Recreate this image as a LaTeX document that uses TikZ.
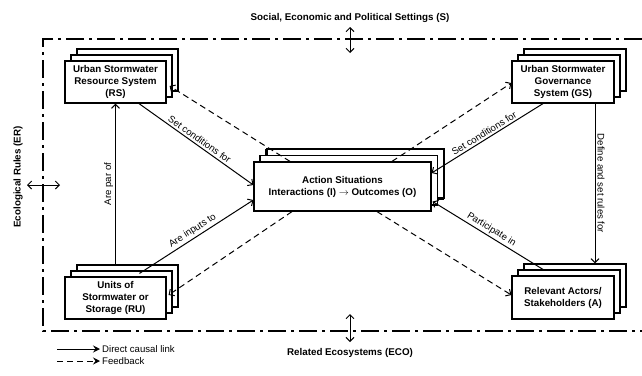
\documentclass[tikz,border=0pt]{standalone}
\usepackage{fontspec}
\setmainfont{Liberation Sans}
\usetikzlibrary{arrows.meta,shadows,calc}
\begin{document}
\begin{tikzpicture}[x=1pt,y=-1pt,
  stackbox/.style={draw=black,fill=white,line width=1.2pt,align=center,
    font=\bfseries\fontsize{9.8}{12}\selectfont,inner sep=0pt,
    double copy shadow={shadow xshift=6pt,shadow yshift=6pt,fill=white,draw=black,line width=1.2pt}},
  conn/.style={line width=1pt,-{Straight Barb[length=4pt,width=8pt,line width=1pt]}},
  fb/.style={conn,dash pattern=on 6pt off 4pt},
  dbl/.style={line width=1pt,{Straight Barb[length=4pt,width=8pt,line width=1pt]}-{Straight Barb[length=4pt,width=8pt,line width=1pt]}},
  lbl/.style={font=\fontsize{9.6}{11}\selectfont,inner sep=2pt},
  setlbl/.style={font=\bfseries\fontsize{9.8}{11}\selectfont,inner sep=0pt},
  frame/.style={line width=1.8pt,dash pattern=on 18pt off 5pt on 3pt off 5pt},
  legarrow/.style={line width=1pt,-{Stealth[length=7pt,width=7pt,inset=2.5pt]}}
]
\useasboundingbox (0,0) rectangle (642,375);
% frame
\draw[frame] (642,39) -- (43,39) -- (43,331) -- (642,331);
% settings labels
\node[setlbl] (S) at (350,18) {Social, Economic and Political Settings (S)};
\node[setlbl,rotate=90] (ER) at (18,177) {Ecological Rules (ER)};
\node[setlbl] (ECO) at (350,353) {Related Ecosystems (ECO)};
\coordinate (s1) at (350,27); \coordinate (s2) at (350,53);
\draw[dbl] (s1) -- (s2);
\coordinate (e1) at (27,185); \coordinate (e2) at (60,185);
\draw[dbl] (e1) -- (e2);
\coordinate (c1) at (350,314); \coordinate (c2) at (350,342);
\draw[dbl] (c1) -- (c2);
% boxes
\node[stackbox,minimum width=101pt,minimum height=42pt] (RS) at (115.5,82) {Urban Stormwater\\Resource System\\(RS)};
\node[stackbox,minimum width=102pt,minimum height=42pt] (GS) at (563,82) {Urban Stormwater\\Governance\\System (GS)};
\node[stackbox,minimum width=177pt,minimum height=49pt,
  double copy shadow={shadow xshift=6.5pt,shadow yshift=6.5pt,fill=white,draw=black,line width=1.2pt}] (AS) at (342.5,186.5) {Action Situations\\Interactions (I) $\rightarrow$ Outcomes (O)};
\node[stackbox,minimum width=101pt,minimum height=42pt] (RU) at (115.5,298) {Units of\\Stormwater or\\Storage (RU)};
\node[stackbox,minimum width=102pt,minimum height=43pt] (A) at (563,297.5) {Relevant Actors/\\Stakeholders (A)};
% connectors
\draw[conn] ($(RS.south)+(23.5,0)$) -- node[lbl,sloped,above] {Set conditions for} ($(AS.west)+(0,-1.5)$);
\draw[fb] ($(AS.north)+(-52.5,0)$) -- ($(RS.east)+(3,4)$);
\draw[conn] ($(GS.south)+(-20,0)$) -- node[lbl,sloped,above] {Set conditions for} ($(AS.east)+(0,-13.5)$);
\draw[fb] ($(AS.north)+(49.5,0)$) -- ($(GS.west)+(0,1)$);
\draw[conn] ($(GS.south)+(32,0)$) -- node[lbl,sloped,above] {Define and set rules for} ($(A.north)+(32,-12)$);
\draw[conn] ($(A.north)+(-20,-6)$) -- node[lbl,sloped,above] {Participate in} ($(AS.east)+(1,15)$);
\draw[fb] ($(AS.south)+(34.5,0)$) -- ($(A.west)+(0,-2.5)$);
\draw[conn] ($(RU.north)+(0,-12)$) -- node[lbl,sloped,above] {Are par of} (RS.south);
\draw[conn] ($(RU.north)+(24,-3)$) -- node[lbl,sloped,above] {Are inputs to} ($(AS.west)+(0,13.5)$);
\draw[fb] ($(AS.south)+(-50.5,0)$) -- ($(RU.east)+(2,-3)$);
% legend
\node[lbl,anchor=west] (L1) at (100,349) {Direct causal link};
\node[lbl,anchor=west] (L2) at (100,361) {Feedback};
\coordinate (l1) at (57,349); \coordinate (l2) at (57,361);
\draw[legarrow] (l1) -- (L1.west);
\draw[legarrow,dash pattern=on 6pt off 4pt] (l2) -- (L2.west);
\end{tikzpicture}
\end{document}
